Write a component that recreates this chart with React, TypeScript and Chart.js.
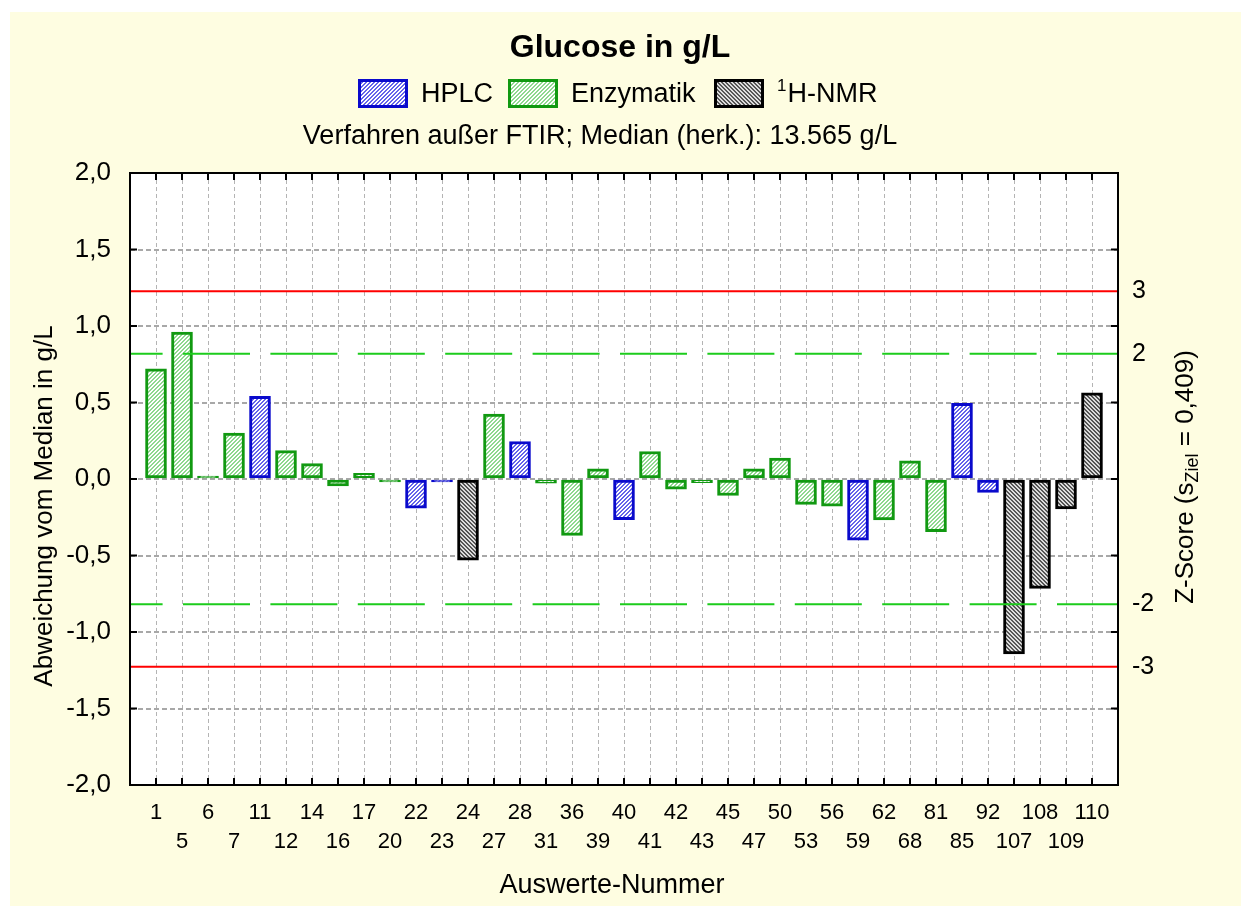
import React, { useEffect, useRef } from 'react';
import { Chart, registerables } from 'chart.js';

Chart.register(...registerables);

// ---- data -------------------------------------------------------------
const categories = ['1', '5', '6', '7', '11', '12', '14', '16', '17', '20', '22', '23', '24', '27', '28', '31', '36', '39', '40', '41', '42', '43', '45', '47', '50', '53', '56', '59', '62', '68', '81', '85', '92', '107', '108', '109', '110'];

const hplcValues: (number | null)[] = [null, null, null, null, 0.54, null, null, null, null, null, -0.19, -0.008, null, null, 0.245, null, null, null, -0.266, null, null, null, null, null, null, null, null, -0.40, null, null, null, 0.495, -0.087, null, null, null, null];
const enzymValues: (number | null)[] = [0.72, 0.96, 0.005, 0.30, null, 0.185, 0.10, -0.046, 0.037, -0.005, null, null, null, 0.425, null, -0.028, -0.368, 0.066, null, 0.18, -0.066, -0.024, -0.108, 0.066, 0.136, -0.166, -0.177, null, -0.268, 0.118, -0.344, null, null, null, null, null, null];
const nmrValues: (number | null)[] = [null, null, null, null, null, null, null, null, null, null, null, null, -0.53, null, null, null, null, null, null, null, null, null, null, null, null, null, null, null, null, null, null, null, null, -1.144, -0.715, -0.196, 0.564];

const sZiel = 0.409;
const zLimits = [3, 2, -2, -3];
const yTickStep = 0.5;
const yMin = -2;
const yMax = 2;

const FONT = '"Liberation Sans", Arial, Helvetica, sans-serif';

function makeHatch(bg: string, fg: string, forward: boolean): CanvasPattern {
  const s = 4;
  const c = document.createElement('canvas');
  c.width = s;
  c.height = s;
  const g = c.getContext('2d')!;
  g.fillStyle = bg;
  g.fillRect(0, 0, s, s);
  g.fillStyle = fg;
  for (let i = 0; i < s; i++) {
    const x = forward ? s - 1 - i : i;
    g.fillRect(x, i, 1, 1);
    g.fillRect((x + (forward ? 1 : -1) + s) % s, i, 1, 1);
  }
  return g.createPattern(c, 'repeat')!;
}

export default function App() {
  const ref = useRef<HTMLCanvasElement>(null);

  useEffect(() => {
    const canvas = ref.current!;
    const hplcPat = makeHatch('#ffffff', '#6464ea', true);
    const enzPat = makeHatch('#ffffff', '#8fd88f', true);
    const nmrPat = makeHatch('#dcdcdc', '#555555', false);

    const labels: (string | string[])[] = [
      '',
      ...categories.map((c, i) => (i % 2 === 0 ? [c, ''] : ['', c])),
      '',
    ];
    const pad = (v: (number | null)[]) => [null, ...v, null];

    const mkDs = (label: string, vals: (number | null)[], bg: CanvasPattern, border: string) => ({
      label,
      data: pad(vals),
      backgroundColor: bg,
      borderColor: border,
      borderWidth: 3,
      borderSkipped: false as const,
      grouped: false,
      barThickness: 21,
      minBarLength: 3,
    });

    const legendItems = [
      { text: 'HPLC', sup: '', pat: hplcPat, border: '#0a0acc', x: 358 },
      { text: 'Enzymatik', sup: '', pat: enzPat, border: '#119911', x: 508 },
      { text: 'H-NMR', sup: '1', pat: nmrPat, border: '#000000', x: 714 },
    ];

    const overlay = {
      id: 'overlay',
      beforeDraw(chart: any) {
        const { ctx, chartArea: a } = chart;
        ctx.save();
        ctx.fillStyle = '#ffffff';
        ctx.fillRect(0, 0, chart.width, chart.height);
        ctx.fillStyle = '#fefde1';
        ctx.fillRect(10, 12, chart.width - 10, chart.height - 12);
        ctx.fillStyle = '#ffffff';
        ctx.fillRect(a.left, a.top, a.right - a.left, a.bottom - a.top);
        ctx.restore();
      },
      afterDatasetsDraw(chart: any) {
        const { ctx, chartArea: a, scales } = chart;
        const y = scales.y;
        const x = scales.x;
        ctx.save();
        // limit lines
        zLimits.forEach((z) => {
          const py = y.getPixelForValue(z * sZiel);
          ctx.beginPath();
          ctx.lineWidth = 2;
          if (Math.abs(z) === 3) {
            ctx.strokeStyle = '#ff0000';
            ctx.setLineDash([]);
          } else {
            ctx.strokeStyle = '#1ccc1c';
            ctx.setLineDash([67, 20.4]);
            ctx.lineDashOffset = 34.4;
          }
          ctx.moveTo(a.left, py);
          ctx.lineTo(a.right, py);
          ctx.stroke();
        });
        ctx.setLineDash([]);
        // frame
        ctx.strokeStyle = '#000';
        ctx.lineWidth = 2;
        ctx.strokeRect(a.left, a.top, a.right - a.left, a.bottom - a.top);
        // inner tick marks
        const tl = 7;
        ctx.beginPath();
        for (let i = 1; i <= categories.length; i++) {
          const px = x.getPixelForValue(i);
          ctx.moveTo(px, a.top);
          ctx.lineTo(px, a.top + tl);
          ctx.moveTo(px, a.bottom);
          ctx.lineTo(px, a.bottom - tl);
        }
        for (let v = yMin + yTickStep; v < yMax - 1e-9; v += yTickStep) {
          const py = y.getPixelForValue(v);
          ctx.moveTo(a.left, py);
          ctx.lineTo(a.left + tl, py);
          ctx.moveTo(a.right, py);
          ctx.lineTo(a.right - tl, py);
        }
        ctx.stroke();

        // title
        ctx.fillStyle = '#000';
        ctx.textBaseline = 'middle';
        ctx.textAlign = 'center';
        ctx.font = `bold 32px ${FONT}`;
        ctx.fillText('Glucose in g/L', 620, 48);
        // subtitle
        ctx.font = `27px ${FONT}`;
        ctx.fillText('Verfahren außer FTIR; Median (herk.): 13.565 g/L', 600, 137);
        // legend
        legendItems.forEach((it) => {
          ctx.fillStyle = it.pat;
          ctx.fillRect(it.x, 79, 50, 29);
          ctx.strokeStyle = it.border;
          ctx.lineWidth = 3;
          ctx.strokeRect(it.x + 1.5, 80.5, 47, 26);
          ctx.fillStyle = '#000';
          ctx.textAlign = 'left';
          let tx = it.x + 63;
          if (it.sup) {
            ctx.font = `17px ${FONT}`;
            ctx.fillText(it.sup, tx, 86);
            tx += ctx.measureText(it.sup).width + 1;
          }
          ctx.font = `27px ${FONT}`;
          ctx.fillText(it.text, tx, 95);
        });
        // x title
        ctx.textAlign = 'center';
        ctx.font = `27px ${FONT}`;
        ctx.fillText('Auswerte-Nummer', 612, 886);
        // left title
        ctx.save();
        ctx.translate(45, 506);
        ctx.rotate(-Math.PI / 2);
        ctx.font = `26px ${FONT}`;
        ctx.fillText('Abweichung vom Median in g/L', 0, 0);
        ctx.restore();
        // right title with subscript
        ctx.save();
        ctx.translate(1186, 477);
        ctx.rotate(-Math.PI / 2);
        ctx.textAlign = 'left';
        const p1 = 'Z-Score (s';
        const p2 = 'Ziel';
        const p3 = ' = 0,409)';
        ctx.font = `26px ${FONT}`;
        const w1 = ctx.measureText(p1).width;
        const w3 = ctx.measureText(p3).width;
        ctx.font = `18px ${FONT}`;
        const w2 = ctx.measureText(p2).width;
        const total = w1 + w2 + w3;
        let cx = -total / 2;
        ctx.font = `26px ${FONT}`;
        ctx.fillText(p1, cx, 0);
        cx += w1;
        ctx.font = `18px ${FONT}`;
        ctx.fillText(p2, cx, 7);
        cx += w2;
        ctx.font = `26px ${FONT}`;
        ctx.fillText(p3, cx, 0);
        ctx.restore();

        ctx.restore();
      },
    };

    const chart = new Chart(canvas, {
      type: 'bar',
      data: {
        labels,
        datasets: [
          mkDs('HPLC', hplcValues, hplcPat, '#0a0acc'),
          mkDs('Enzymatik', enzymValues, enzPat, '#119911'),
          mkDs('1H-NMR', nmrValues, nmrPat, '#000000'),
        ] as any,
      },
      options: {
        responsive: false,
        devicePixelRatio: 1,
        animation: false,
        layout: { padding: { top: 173, left: 0, right: 0, bottom: 0 } },
        plugins: {
          legend: { display: false },
          title: { display: false },
          tooltip: { enabled: false },
        },
        scales: {
          x: {
            type: 'category',
            offset: false,
            grid: { offset: false, color: '#b4b4b4', lineWidth: 1, drawTicks: false },
            border: { display: false, dash: [4, 3] },
            ticks: {
              autoSkip: false,
              maxRotation: 0,
              minRotation: 0,
              padding: 13,
              color: '#000',
              font: { family: FONT, size: 22, lineHeight: 29 / 22 },
            },
            afterFit: (s: any) => {
              s.height = 121;
            },
          },
          y: {
            position: 'left',
            min: yMin,
            max: yMax,
            grid: { color: '#a8a8a8', lineWidth: 2, drawTicks: false },
            border: { display: false, dash: [5, 3] },
            ticks: {
              stepSize: yTickStep,
              padding: 19,
              color: '#000',
              font: { family: FONT, size: 26 },
              callback: (v: any) => Number(v).toFixed(1).replace('.', ','),
            },
            afterFit: (s: any) => {
              s.width = 130;
            },
          },
          y2: {
            position: 'right',
            min: yMin,
            max: yMax,
            grid: { display: false, drawTicks: false },
            border: { display: false },
            afterBuildTicks: (s: any) => {
              s.ticks = zLimits.map((z) => ({ value: z * sZiel }));
            },
            ticks: {
              padding: 14,
              color: '#000',
              font: { family: FONT, size: 25 },
              callback: (v: any) => String(Math.round(Number(v) / sZiel)),
            },
            afterFit: (s: any) => {
              s.width = 123;
            },
          },
        },
      } as any,
      plugins: [overlay],
    });

    return () => chart.destroy();
  }, []);

  return (
    <div style={{ position: 'absolute', left: 0, top: 0, width: 1241, height: 906 }}>
      <canvas ref={ref} width={1241} height={906} style={{ display: 'block', width: 1241, height: 906 }} />
    </div>
  );
}
